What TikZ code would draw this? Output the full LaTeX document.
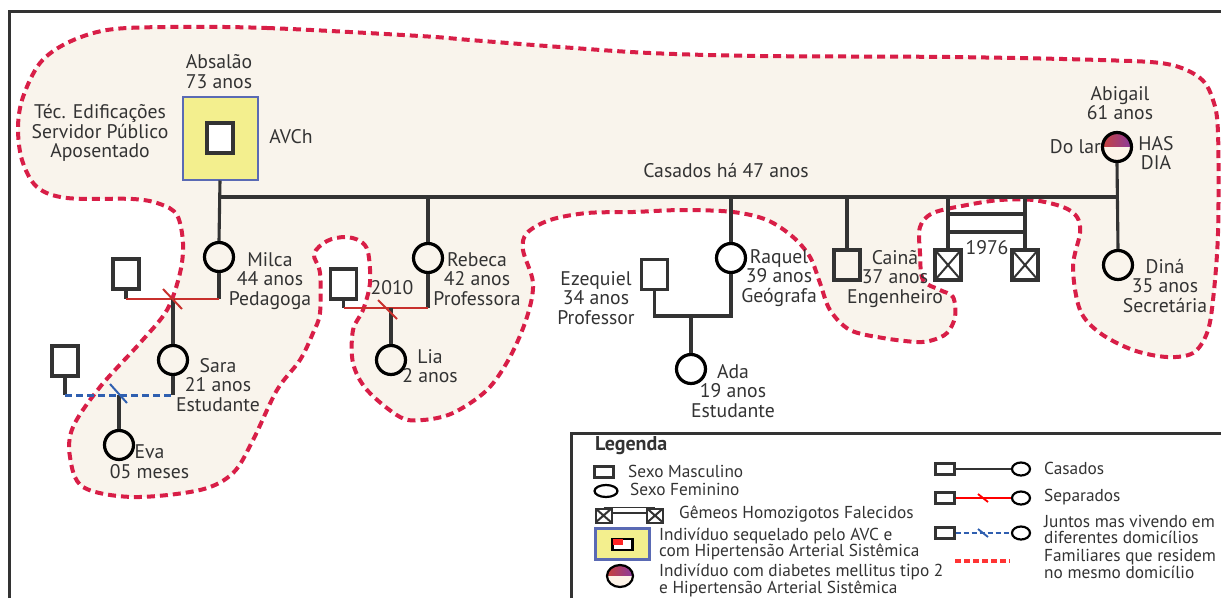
\documentclass[tikz,border=0pt]{standalone}
\usepackage{fontspec}
\setmainfont{PT Sans}
\usetikzlibrary{calc,shapes.geometric}
\definecolor{ln}{HTML}{333333}
\definecolor{bg}{HTML}{F9F4EC}
\definecolor{rd}{HTML}{D81E47}
\definecolor{ylw}{HTML}{F3EF8E}
\definecolor{bl}{HTML}{5A6AB4}
\definecolor{sep}{HTML}{C8302C}
\definecolor{jnt}{HTML}{2F5FB0}
\definecolor{gra}{HTML}{C8423A}
\definecolor{grb}{HTML}{8A3AA0}
\definecolor{crm}{HTML}{FDF3E8}
\begin{document}
\begin{tikzpicture}[x=1pt,y=-1pt,
  lbl/.style={font=\fontsize{19.7}{19.5}\selectfont, align=center, inner sep=0pt, text=ln},
  legf/.style={font=\fontsize{17.3}{16.8}\selectfont, align=left, inner sep=0pt, text=ln, anchor=west},
  male/.style={draw=ln, line width=3.2pt, minimum width=26pt, minimum height=30pt, inner sep=0pt},
  fem/.style={circle, draw=black, line width=3.2pt, minimum size=29pt, inner sep=0pt},
  twin/.style={male, fill=white, path picture={\draw[ln, line width=2pt] (path picture bounding box.north west) -- (path picture bounding box.south east) (path picture bounding box.north east) -- (path picture bounding box.south west);}},
  rel/.style={draw=ln, line width=3.1pt},
  sepl/.style={draw=sep, line width=2pt},
  jntl/.style={draw=jnt, line width=3pt, dash pattern=on 7pt off 4pt},
  hh/.style={draw=rd, line width=4pt, dash pattern=on 8pt off 5pt},
  lmale/.style={draw=ln, line width=2.2pt, minimum width=19pt, minimum height=11pt, inner sep=0pt},
  lfem/.style={ellipse, draw=black, line width=2.2pt, minimum width=18pt, minimum height=13pt, inner sep=0pt}
]
\useasboundingbox (0,0) rectangle (1221,598);
\clip (0,0) rectangle (1221,598);
\fill[white] (0,0) rectangle (1221,598);

% household outline
\draw[hh, fill=bg] plot[smooth cycle, tension=0.55] coordinates {
 (167,27) (267,28) (420,36) (470,40) (560,47) (650,53) (760,56) (950,57) (1100,60) (1167,64)
 (1200,78) (1213,100) (1218,133) (1218,233) (1213,300) (1207,333) (1193,353) (1167,357)
 (1133,350) (1100,333) (1080,310) (1073,267) (1080,233) (1077,217) (1063,207) (1033,200)
 (1000,200) (967,205) (933,213) (920,227) (920,253) (923,280) (940,290) (953,297) (955,317)
 (947,333) (933,340) (917,342) (883,338) (850,330) (830,310) (820,283) (810,257) (793,237)
 (767,220) (733,212) (683,210) (633,212) (587,213) (550,220) (527,233) (523,250) (533,283)
 (527,317) (510,357) (487,390) (453,413) (423,420) (400,417) (367,390) (353,363) (353,330)
 (363,310) (370,283) (368,252) (360,241) (345,237) (327,241) (314,254) (320,273) (320,313)
 (313,333) (300,360) (277,390) (253,440) (233,473) (200,490) (133,497) (83,487) (70,457)
 (73,427) (100,387) (140,343) (167,310) (180,273) (183,243) (177,215) (160,204) (133,199)
 (67,198) (37,187) (22,160) (18,127) (23,97) (40,63) (67,43) (107,30)};

% frame
\draw[ln, line width=3pt] (9,598) -- (9,11) -- (1221,11);

% Absalao
\node[draw=bl, line width=2pt, fill=ylw, minimum width=75pt, minimum height=83pt, inner sep=0pt] (absbox) at (220,138) {};
\node[male, fill=white, line width=3.5pt, minimum width=26pt, minimum height=30pt] (abs) at (220,138) {};
\node[lbl] at (219,71.5) {Absalão\\73 anos};
\node[lbl] at (100,133) {Téc. Edificações\\Servidor Público\\Aposentado};
\node[lbl] at (291,137) {AVCh};

% Abigail
\coordinate (abc) at (1117,147);
\begin{scope}
\clip (1100,128) rectangle (1134,147);
\shade[left color=gra, right color=grb] (abc) circle (15);
\end{scope}
\begin{scope}
\clip (1100,147) rectangle (1134,166);
\fill[crm] (abc) circle (15);
\end{scope}
\node[fem] (abi) at (abc) {};
\node[lbl] at (1120,103) {Abigail\\61 anos};
\node[lbl, anchor=east] at (1101,147) {Do lar};
\node[lbl] at (1156,153) {HAS\\DIA};

% children
\node[fem] (milca) at (219,257) {};
\node[fem] (rebeca) at (428,258) {};
\node[fem] (raquel) at (731,258) {};
\node[male] (caina) at (847,265) {};
\node[twin] (tw1) at (948,265) {};
\node[twin] (tw2) at (1025,265) {};
\node[fem] (dina) at (1118,265) {};

\coordinate (mL) at (0,197);
\draw[rel] (absbox.south) -- (milca.north);
\draw[rel] (absbox.south |- mL) -- (abi.south |- mL);
\draw[rel] (abi.south) -- (dina.north);
\draw[rel] (rebeca.north |- mL) -- (rebeca.north);
\draw[rel] (raquel.north |- mL) -- (raquel.north);
\draw[rel] (caina.north |- mL) -- (caina.north);
\draw[rel] (tw1.north |- mL) -- (tw1.north);
\draw[rel] (tw2.north |- mL) -- (tw2.north);
\coordinate (b1) at (0,214);
\coordinate (b2) at (0,232);
\draw[rel] (tw1.north |- b1) -- (tw2.north |- b1);
\draw[rel] (tw1.north |- b2) -- (tw2.north |- b2);
\node[lbl] at (987,248) {1976};
\node[lbl] at (726,171) {Casados há 47 anos};

\node[lbl] at (270,281) {Milca\\44 anos\\Pedagoga};
\node[lbl] at (477,279) {Rebeca\\42 anos\\Professora};
\node[lbl] at (779,278) {Raquel\\39 anos\\Geógrafa};
\node[lbl] at (895,279) {Cainã\\37 anos\\Engenheiro};
\node[lbl] at (1165,286) {Diná\\35 anos\\Secretária};

% Milca - partner - Sara
\node[male] (pm) at (126,274) {};
\node[fem] (sara) at (173,360) {};
\coordinate (sy) at (0,299);
\draw[rel] (pm.south) -- (pm.south |- sy);
\draw[rel] (milca.south) -- (milca.south |- sy);
\draw[sepl] (pm.south |- sy) -- (milca.south |- sy);
\draw[rel] (sara.north |- sy) -- (sara.north);
\draw[sepl] ($(sara.north |- sy)+(-10,-10)$) -- ++(19,20);
\node[lbl] at (218,385) {Sara\\21 anos\\Estudante};

% Sara - partner - Eva
\node[male] (ps) at (65,361) {};
\node[fem] (eva) at (119,445) {};
\coordinate (jy) at (0,395);
\draw[rel] (ps.south) -- (ps.south |- jy);
\draw[rel] (sara.south) -- (sara.south |- jy);
\draw[jntl] (ps.south |- jy) -- (sara.south |- jy);
\draw[rel] (eva.north |- jy) -- (eva.north);
\draw[jnt, line width=2pt] ($(eva.north |- jy)+(-9,-11)$) -- ++(17,19);
\node[lbl] at (149.5,461.5) {Eva\\05 meses};

% Rebeca - partner - Lia
\node[male] (pl) at (343.5,284) {};
\node[fem] (lia) at (391,360) {};
\coordinate (ly) at (0,308);
\draw[rel] (pl.south) -- (pl.south |- ly);
\draw[rel] (rebeca.south) -- (rebeca.south |- ly);
\draw[sepl] (pl.south |- ly) -- (rebeca.south |- ly);
\draw[rel] (lia.north |- ly) -- (lia.north);
\draw[sepl] ($(lia.north |- ly)+(-13,-8)$) -- ++(19,19);
\node[lbl] at (392,288) {2010};
\node[lbl] at (430,366) {Lia\\2 anos};

% Raquel - Ezequiel - Ada
\node[male] (eze) at (654.5,274.5) {};
\node[fem] (ada) at (691,369) {};
\coordinate (ey) at (0,316);
\draw[rel] (eze.south) |- (ey -| raquel.south) -- (raquel.south);
\draw[rel] (ada.north |- ey) -- (ada.north);
\node[lbl] at (596,298) {Ezequiel\\34 anos\\Professor};
\node[lbl] at (733,391) {Ada\\19 anos\\Estudante};

% Legend
\draw[ln, line width=3pt] (571,598) -- (571,433) -- (1221,433);
\node[legf, font=\fontsize{20}{20}\selectfont\bfseries] at (595,446) {Legenda};
\node[lmale] (lm) at (604,472) {};
\node[legf] at (628,471) {Sexo Masculino};
\node[lfem, minimum width=23pt, minimum height=12pt] (lf) at (606,491) {};
\node[legf] at (630,489) {Sexo Feminino};
\node[twin, line width=2pt, minimum width=16pt, minimum height=14pt] (lt1) at (603.5,515.5) {};
\node[twin, line width=2pt, minimum width=16pt, minimum height=14pt] (lt2) at (655,515.5) {};
\draw[ln, line width=1.8pt] (lt1.north) -- (lt2.north);
\draw[ln, line width=1.8pt] (lt1.east |- 0,513) -- (lt2.west |- 0,513);
\node[legf] at (679,514) {Gêmeos Homozigotos Falecidos};
\node[draw=bl, line width=2.2pt, fill=ylw, minimum width=54pt, minimum height=31pt, inner sep=0pt] (lavc) at (622.5,544) {};
\node[draw=black, line width=2.4pt, fill=white, minimum width=20pt, minimum height=11pt, inner sep=0pt] (lavi) at (622.5,544.5) {};
\fill[red!85!white] (lavi.north west) ++(1.2,1.2) rectangle ++(10,6);
\node[legf] at (659,544) {Indivíduo sequelado pelo AVC e\\com Hipertensão Arterial Sistêmica};
\coordinate (lgc) at (620,576);
\begin{scope}
\clip (600,560) rectangle (640,576);
\shade[left color=gra, right color=grb] (lgc) ellipse (13 and 11);
\end{scope}
\begin{scope}
\clip (600,576) rectangle (640,592);
\fill[crm] (lgc) ellipse (13 and 11);
\end{scope}
\node[lfem, minimum width=26pt, minimum height=22pt] (lg) at (lgc) {};
\node[legf] at (659,580.5) {Indivíduo com diabetes mellitus tipo 2\\e Hipertensão Arterial Sistêmica};

\node[lmale] (c1) at (945,469) {};
\node[lfem] (c2) at (1021,469) {};
\draw[ln, line width=1.5pt] (c1) -- (c2);
\node[legf] at (1044,468) {Casados};
\node[lmale] (s1) at (945,498) {};
\node[lfem] (s2) at (1021,498) {};
\draw[red, line width=1.5pt] (s1) -- (s2);
\draw[red, line width=1.8pt] (978,494) -- (988,502);
\node[legf] at (1044,497) {Separados};
\node[lmale] (j1) at (945,533) {};
\node[lfem] (j2) at (1021,533) {};
\draw[jnt, line width=2.6pt, dash pattern=on 5pt off 3pt] (j1) -- (j2);
\draw[jnt, line width=1.8pt] (978,529) -- (988,537);
\node[legf] at (1044,529.5) {Juntos mas vivendo em\\diferentes domicílios};
\coordinate (h1) at (955,561);
\coordinate (h2) at (1010,561);
\draw[draw=red!80!white, line width=4pt, dash pattern=on 6pt off 3pt] (h1) -- (h2);
\node[legf] at (1044,564) {Familiares que residem\\no mesmo domicílio};
\end{tikzpicture}
\end{document}
